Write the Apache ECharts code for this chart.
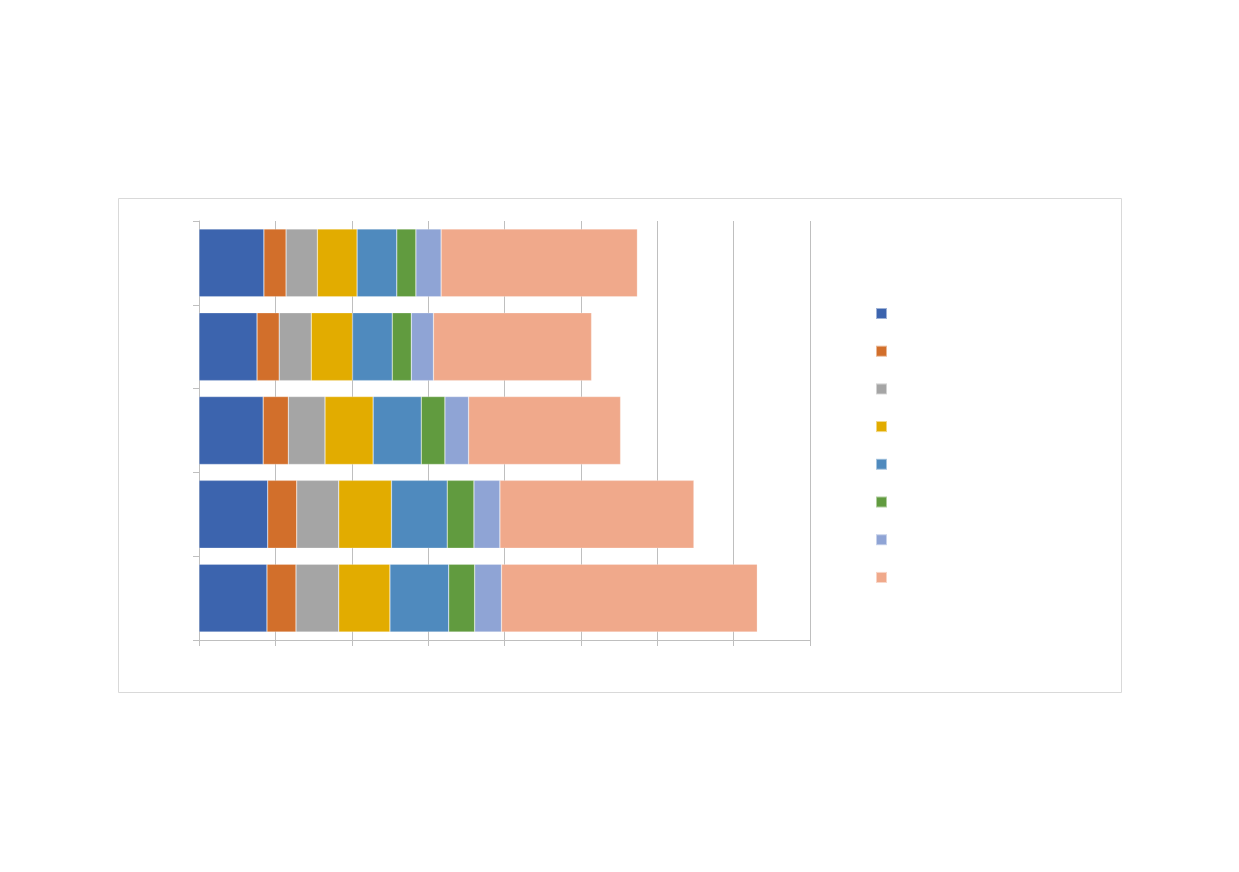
<!DOCTYPE html>
<html>
<head>
<meta charset="utf-8">
<script src="https://cdn.jsdelivr.net/npm/echarts@6/dist/echarts.min.js"></script>
<style>
  html, body { margin: 0; padding: 0; background: #fff; }
  #chart { width: 1239px; height: 872px; }
</style>
</head>
<body>
<div id="chart"></div>
<script>
// 类别从下到上（原图无可见文字）
const categories = ['1', '2', '3', '4', '5']
const seriesNames = ['S1', 'S2', 'S3', 'S4', 'S5', 'S6', 'S7', 'S8']
const colors = ['#3c64ae', '#d26f2b', '#a5a5a5', '#e2ac00', '#4f8abe', '#619b3f', '#8fa4d5', '#f0a98b']

const s1 = [8.9, 9.0, 8.4, 7.6, 8.5]
const s2 = [3.8, 3.8, 3.3, 2.9, 2.9]
const s3 = [5.6, 5.5, 4.8, 4.2, 4.1]
const s4 = [6.7, 6.9, 6.3, 5.4, 5.2]
const s5 = [7.7, 7.3, 6.3, 5.2, 5.2]
const s6 = [3.4, 3.5, 3.1, 2.5, 2.5]
const s7 = [3.5, 3.4, 3.1, 2.9, 3.3]
const s8 = [33.5, 25.4, 19.9, 20.7, 25.7]

const xMax = 80
const xInterval = 10

const allData = [s1, s2, s3, s4, s5, s6, s7, s8]
const axisColor = '#bfbfbf'

const chart = echarts.init(document.getElementById('chart'))
const option = {
  backgroundColor: '#fff',
  animation: false,
  color: colors,
  graphic: [
    {
      type: 'rect',
      shape: { x: 118.5, y: 198.5, width: 1003, height: 494 },
      style: { fill: 'none', stroke: '#d9d9d9', lineWidth: 1 },
      silent: true
    }
  ],
  legend: {
    orient: 'vertical',
    left: 870,
    top: 302,
    itemWidth: 11,
    itemHeight: 11,
    itemGap: 24.7,
    icon: 'rect',
    formatter: () => '',
    textStyle: { fontSize: 1 },
    data: seriesNames
  },
  grid: { left: 199, right: 429, top: 221, bottom: 232, containLabel: false },
  xAxis: {
    type: 'value',
    min: 0,
    max: xMax,
    interval: xInterval,
    axisLabel: { show: false },
    axisLine: { show: true, lineStyle: { color: axisColor } },
    axisTick: { show: true, length: 6, lineStyle: { color: axisColor } },
    splitLine: { show: true, lineStyle: { color: axisColor } }
  },
  yAxis: {
    type: 'category',
    data: categories,
    axisLabel: { show: false },
    axisLine: { show: true, lineStyle: { color: axisColor } },
    axisTick: { show: true, length: 6, lineStyle: { color: axisColor } },
    splitLine: { show: false }
  },
  series: allData.map((d, i) => ({
    name: seriesNames[i],
    type: 'bar',
    stack: 'total',
    barCategoryGap: '19%',
    data: d,
    itemStyle: { color: colors[i], borderColor: 'rgba(255,255,255,0.5)', borderWidth: 0.5 }
  }))
}
chart.setOption(option)
</script>
</body>
</html>
